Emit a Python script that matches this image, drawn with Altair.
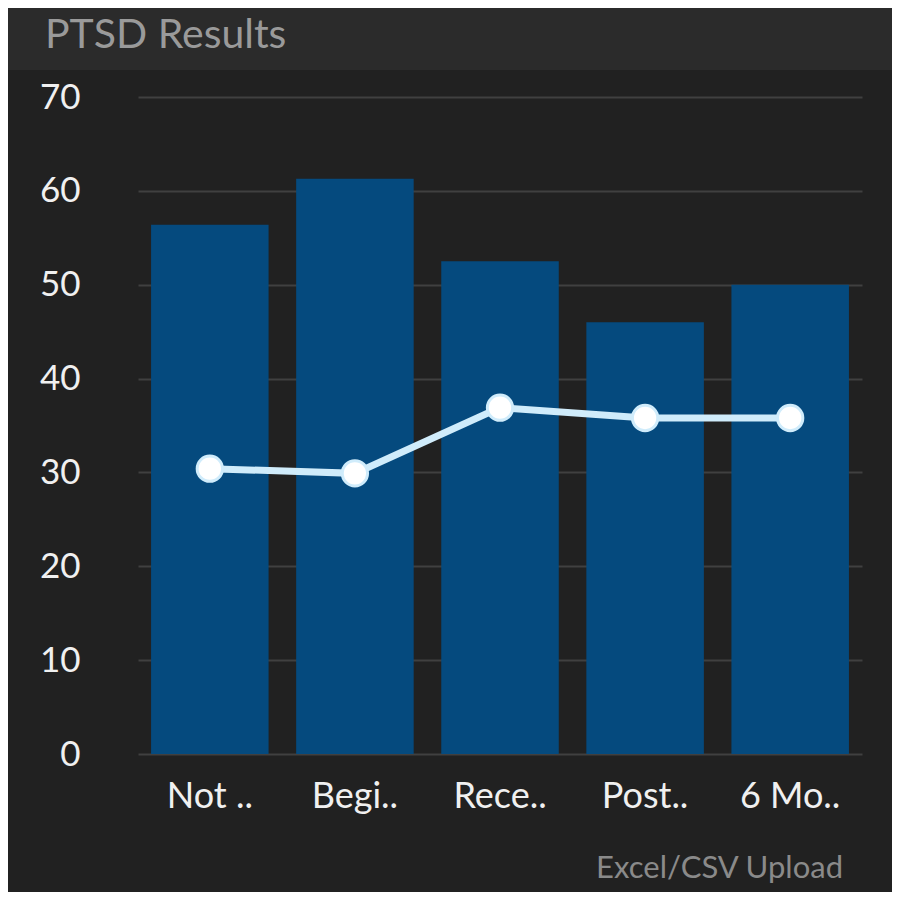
import altair as alt
import pandas as pd

categories = ["Not ..", "Begi..", "Rece..", "Post..", "6 Mo.."]
bar_values = [56.4, 61.3, 52.5, 46.0, 50.0]
line_values = [30.4, 29.9, 36.9, 35.8, 35.8]

df = pd.DataFrame({"cat": categories, "bar": bar_values, "line": line_values})

FONT = "Lato"
W, H = 724, 657
PAD = {"left": 130, "top": 89, "right": 30, "bottom": 138}

x_enc = alt.X("cat:N", sort=categories,
              scale=alt.Scale(paddingInner=0.19, paddingOuter=0.09),
              axis=alt.Axis(title=None, labelAngle=0, labelFont=FONT, labelFontSize=36,
                            labelColor="#f0f0f0", labelPadding=53, labelBaseline="alphabetic",
                            ticks=False, domain=False, grid=False))
y_scale = alt.Scale(domain=[0, 70], nice=False)
y_axis = alt.Axis(title=None, values=[0, 10, 20, 30, 40, 50, 60, 70], labelFont=FONT,
                  labelFontSize=35, labelColor="#f0f0f0", labelPadding=58, ticks=False,
                  domain=False, grid=True, gridColor="#404040", gridWidth=2)

base = alt.Chart(df)
one = alt.datum.cat == categories[0]

header = base.mark_rect(color="#2b2b2b").encode(
    x=alt.value(-130), x2=alt.value(W + 30), y=alt.value(-89), y2=alt.value(-27)
).transform_filter(one)

title = base.mark_text(text="PTSD Results", font=FONT, fontSize=41, color="#9a9a9a",
                       align="left", baseline="alphabetic").encode(
    x=alt.value(-93), y=alt.value(-49)
).transform_filter(one)

footer = base.mark_text(text="Excel/CSV Upload", font=FONT, fontSize=31, color="#8a8a8a",
                        align="right", baseline="alphabetic").encode(
    x=alt.value(W - 19), y=alt.value(H + 124)
).transform_filter(one)

bars = base.mark_bar(color="#054a7e").encode(
    x=x_enc,
    y=alt.Y("bar:Q", scale=y_scale, axis=y_axis),
)

line = base.mark_line(color="#d0ecfb", strokeWidth=7).encode(
    x=alt.X("cat:N", sort=categories), y=alt.Y("line:Q", scale=y_scale)
)
points = base.mark_point(filled=True, fill="#ffffff", stroke="#d0ecfb", strokeWidth=3,
                         size=640, opacity=1, shape="circle").encode(
    x=alt.X("cat:N", sort=categories), y=alt.Y("line:Q", scale=y_scale)
)

chart = alt.layer(header, title, footer, bars, line, points).properties(
    width=W, height=H, background="#212121",
    padding=PAD, autosize=alt.AutoSizeParams(type="none")
).configure_view(stroke=None)

chart.save("out.html", embed_options={"renderer": "svg", "actions": False})
